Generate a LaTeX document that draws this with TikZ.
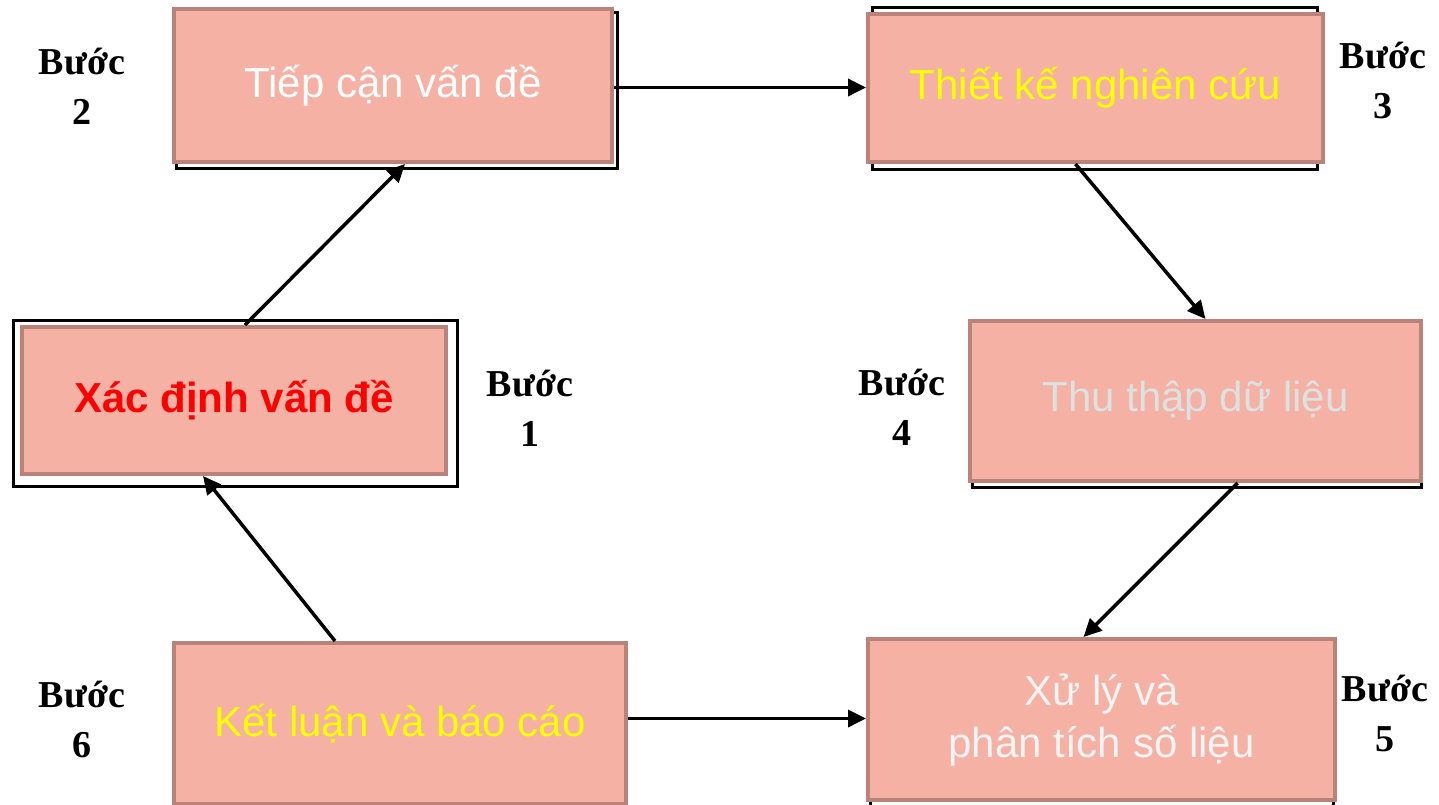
\documentclass[tikz,border=0pt]{standalone}
\usepackage{fontspec}
\setmainfont{Liberation Serif}
\setsansfont{Liberation Sans}
\usetikzlibrary{arrows.meta}

\definecolor{boxfill}{HTML}{F5B1A3}
\definecolor{boxline}{HTML}{B9837A}
\definecolor{txtyellow}{HTML}{FFFF00}
\definecolor{txtgray}{HTML}{DCE2E2}
\definecolor{txtwhite}{HTML}{F4F4F4}

\begin{document}
\begin{tikzpicture}[
	x=1pt,
	y=-1pt,
	line width=3.5pt,
	>={Triangle[length=18pt,width=17pt]},
	stage/.style={
		rectangle,
		draw=boxline,
		fill=boxfill,
		line width=4pt,
		align=center,
		font=\sffamily\fontsize{42}{52}\selectfont
	},
	stepnum/.style={
		align=center,
		font=\rmfamily\bfseries\fontsize{38}{50}\selectfont
	},
	frame/.style={
		draw=black,
		line width=3pt
	}]

   \useasboundingbox (0,0) rectangle (1439,804);

   % black outlines behind the boxes
   \draw[frame] (13,320) rectangle (457,486);
   \draw[frame] (176,12) rectangle (617,168);
   \draw[frame] (872,7) rectangle (1317,169);
   \draw[frame] (972,323) rectangle (1421,487);
   \draw[frame] (176,645) rectangle (626,810);
   \draw[frame] (870,641) rectangle (1333,810);

   \node[stage, minimum width=424pt, minimum height=147pt, text=red, font=\sffamily\bfseries\fontsize{42}{52}\selectfont]
      (b_1) at (234,400.5) {Xác định vấn đề};
   \node[stage, minimum width=438pt, minimum height=153pt, text=white]
      (b_2) at (393,85.5) {Tiếp cận vấn đề};
   \node[stage, minimum width=455pt, minimum height=148pt, text=txtyellow]
      (b_3) at (1095.5,88) {Thiết kế nghiên cứu};
   \node[stage, minimum width=451pt, minimum height=160pt, text=txtgray]
      (b_4) at (1195.5,401) {Thu thập dữ liệu};
   \node[stage, minimum width=467pt, minimum height=161pt, text=txtwhite]
      (b_5) at (1101.5,719.5) {Xử lý và\\phân tích số liệu};
   \node[stage, minimum width=452pt, minimum height=161pt, text=txtyellow]
      (b_6) at (400,723.5) {Kết luận và báo cáo};

   \node[stepnum] (n_1) at (530,408) {Bước\\1};
   \node[stepnum] (n_2) at (82,86) {Bước\\2};
   \node[stepnum] (n_3) at (1383,80) {Bước\\3};
   \node[stepnum] (n_4) at (902,407) {Bước\\4};
   \node[stepnum] (n_5) at (1385,713) {Bước\\5};
   \node[stepnum] (n_6) at (82,719) {Bước\\6};

   \draw[->] ([xshift=11pt]b_1.north) -- ([xshift=12pt]b_2.south);
   \draw[->] ([yshift=-2pt]b_2.east) -- ([yshift=-2pt]b_2.east -| b_3.west);
   \draw[->] ([xshift=-20pt]b_3.south) -- ([xshift=10pt]b_4.north);
   \draw[->] ([xshift=42pt]b_4.south) -- ([xshift=-18pt]b_5.north);
   \draw[->] ([yshift=5pt]b_6.east) -- ([yshift=5pt]b_6.east -| b_5.west);
   \draw[->] ([xshift=-65pt]b_6.north) -- ([xshift=-31pt]b_1.south);
\end{tikzpicture}
\end{document}
